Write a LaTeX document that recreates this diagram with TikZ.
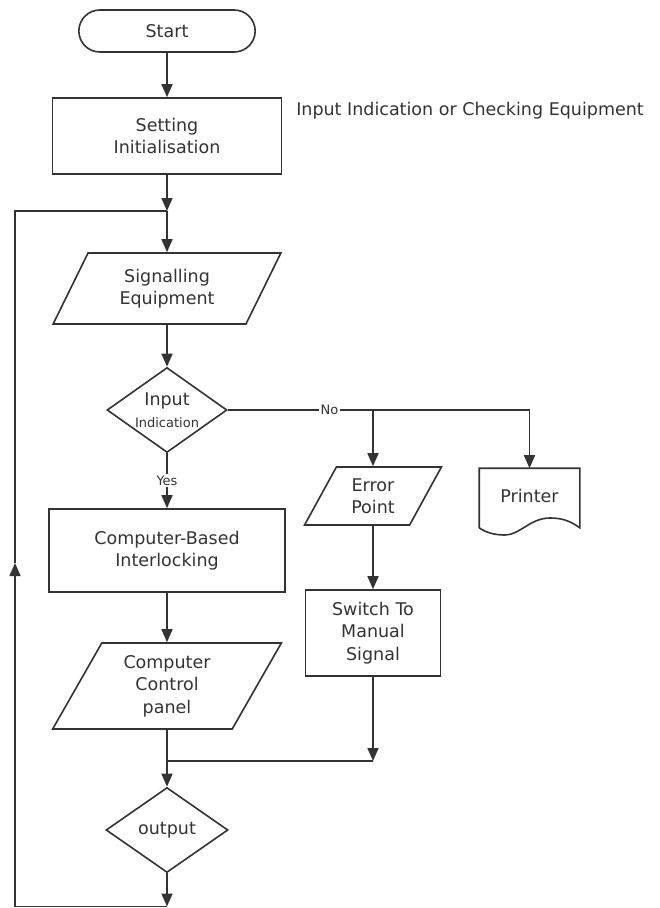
\documentclass[tikz,border=0pt]{standalone}
\usepackage{fontspec}
\setmainfont{DejaVu Sans}
\usetikzlibrary{shapes.geometric,shapes.misc,arrows.meta}

\begin{document}
\begin{tikzpicture}[x=1pt,y=-1pt,black!80,line width=1.6pt,
        >={Triangle[length=13pt,width=11pt]},
        every node/.style={font=\fontsize{17.5}{22.5}\selectfont,align=center},
        startbox/.style={draw,rounded rectangle,minimum width=183pt,minimum height=42pt},
        procbox/.style={draw,rectangle,inner sep=0pt},
        iobox/.style={draw,trapezium,trapezium left angle=62,trapezium right angle=118,
            trapezium stretches=true,inner sep=0pt},
        decbox/.style={draw,diamond,aspect=1.41,inner sep=0pt},
        lbl/.style={fill=white,inner sep=1.5pt,font=\fontsize{13}{15}\selectfont}]
        \useasboundingbox (0,0) rectangle (659,908);
        % main column
        \node[startbox] (start) at (167,31) {Start};
        \node[procbox,minimum width=229pt,minimum height=76pt] (init) at (167,136) {Setting\\Initialisation};
        \node (note) at (470,111) {Input Indication or Checking Equipment};
        \node[iobox,minimum width=228pt,minimum height=71pt] (sig) at (167,288.5) {Signalling\\Equipment};
        \node[decbox,minimum width=120pt,minimum height=85pt] (inp) at (167,410) {Input\\{\fontsize{13}{15}\selectfont Indication}};
        \node[procbox,minimum width=236pt,minimum height=83pt] (cbi) at (167,550.5) {Computer-Based\\Interlocking};
        \node[iobox,minimum width=229pt,minimum height=86pt] (ccp) at (167,686) {Computer\\Control\\panel};
        \node[decbox,minimum width=122pt,minimum height=85pt] (out) at (167,830) {output};
        % error branch
        \node[iobox,minimum width=137pt,minimum height=58pt] (err) at (373,496) {Error\\Point};
        \node[procbox,minimum width=135pt,minimum height=86pt] (man) at (373,633) {Switch To\\Manual\\Signal};
        \node[inner sep=0pt,minimum width=99pt,minimum height=58pt] (prn) at (529.5,498) {\raisebox{5pt}{Printer}};
        \draw (prn.south west) -- (prn.north west) -- (prn.north east) -- (prn.south east)
            .. controls +(-11,-8) and +(10,0) .. (550,518)
            .. controls +(-20,0) and +(15,0) .. (505,535)
            .. controls +(-10,0) and +(7,5) .. (prn.south west);

        \coordinate (join) at (167,211);
        \coordinate (loopTL) at (15,211);
        \coordinate (loopArr) at (15,563);
        \coordinate (loopBL) at (15,906.5);
        \coordinate (loopB) at (167,906.5);
        \coordinate (fork) at (373,410);
        \coordinate (prnIn) at (529.5,410);
        \coordinate (merge) at (373,761);

        \draw[->] (start) -- (init);
        \draw[->] (init) -- (join);
        \draw[->] (join) -- (sig);
        \draw[->] (sig) -- (inp);
        \draw[->] (inp) -- node[lbl]{Yes} (cbi);
        \draw[->] (cbi) -- (ccp);
        \draw[->] (ccp) -- (out);
        \draw[->] (out) -- (loopB);
        % loop back
        \draw[->] (loopB) -- (loopBL) -- (loopArr);
        \draw (loopArr) -- (loopTL) -- (join);
        \draw (inp.east) -- node[lbl,pos=0.7]{No} (fork) -- (prnIn);
        \draw[->] (fork) -- (err);
        \draw[->] (prnIn) -- (prn.north);
        \draw[->] (err) -- (man);
        \draw[->] (man) -- (merge);
        \draw (merge) -- (ccp.south |- merge);
    \end{tikzpicture}
\end{document}
